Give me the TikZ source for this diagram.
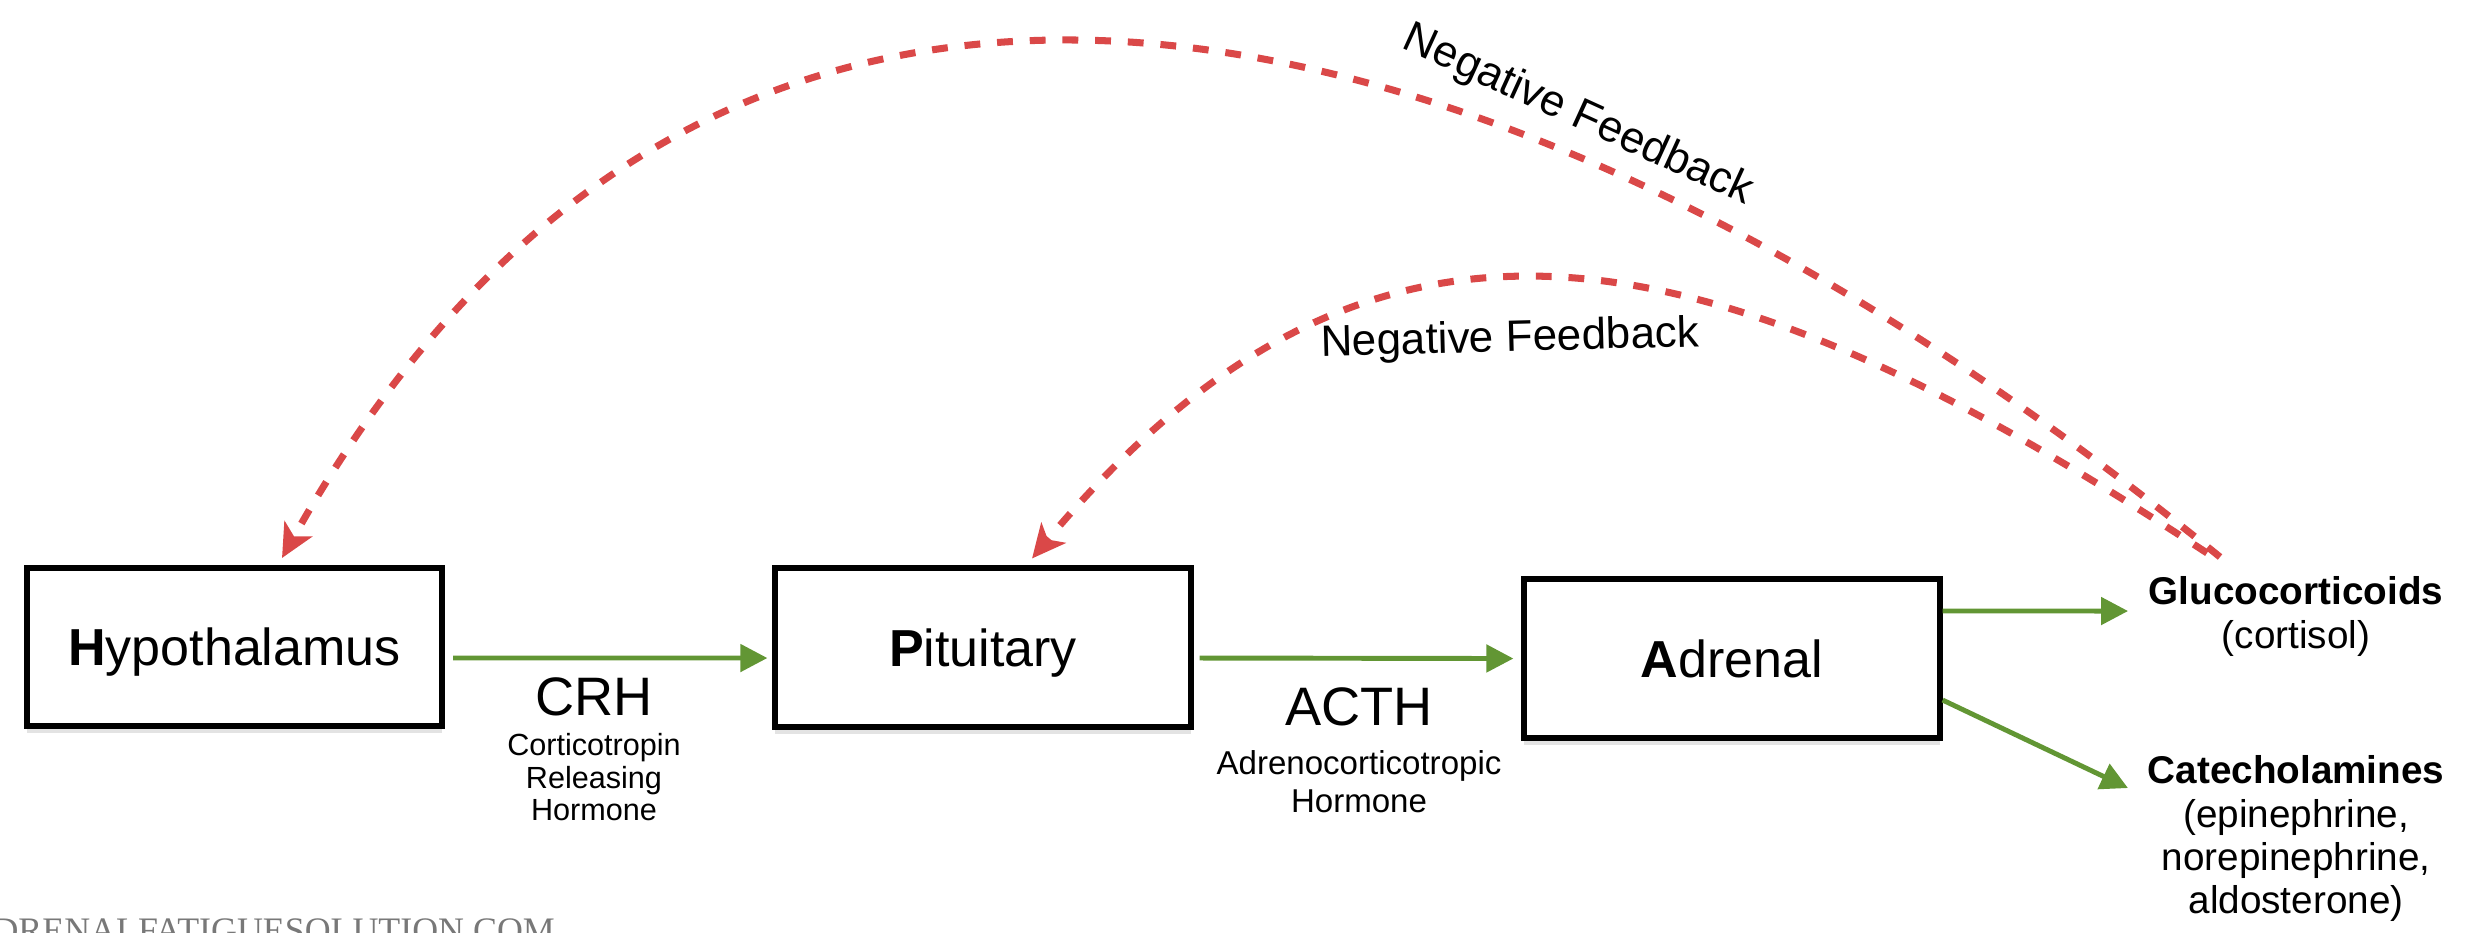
\documentclass[tikz,border=0pt]{standalone}
\usepackage{fontspec}
\setmainfont{Liberation Sans}
\newfontfamily\wmfont{Liberation Serif}
\usetikzlibrary{arrows.meta,shadows,calc}
\definecolor{fbred}{RGB}{218,72,72}
\definecolor{flowgreen}{RGB}{98,150,52}
\definecolor{wmgray}{RGB}{120,120,120}
\begin{document}
\begin{tikzpicture}[x=0.01cm,y=-0.01cm,
  organ/.style={draw=black, line width=1.7pt, fill=white, minimum width=4.15cm, minimum height=1.58cm,
    inner sep=0pt, font=\fontsize{14.8}{17}\selectfont, text depth=0pt,
    drop shadow={shadow xshift=0pt, shadow yshift=-2pt, opacity=0.22}},
  flow/.style={draw=flowgreen, line width=1.4pt, -{Triangle[length=7.7pt,width=7.7pt]}},
  feedback/.style={draw=fbred, line width=2pt, dash pattern=on 4.5pt off 4.8pt,
    -{Stealth[length=9.5pt,width=9pt,inset=2.5pt]}},
  hormone/.style={anchor=base, inner sep=0pt, font=\fontsize{15.4}{18}\selectfont},
  prod/.style={anchor=north, align=center, inner sep=0pt, font=\fontsize{11}{12.3}\selectfont},
  fblabel/.style={inner sep=0pt, font=\fontsize{12.5}{15}\selectfont}
]
\useasboundingbox (0,0) rectangle (2486,932);
\clip (0,0) rectangle (2486,932);

% organ boxes
\node[organ] (hyp) at (234.5,647) {\textbf{H}ypothalamus};
\node[organ] (pit) at (983,647.5) {\textbf{P}ituitary};
\node[organ] (adr) at (1732,658.5) {\textbf{A}drenal};

% hormone labels
\node[hormone] (crh) at (594,715) {CRH};
\node[anchor=north, align=center, inner sep=0pt, font=\fontsize{8.7}{9.25}\selectfont] (crhsub) at (594,733) {Corticotropin\\Releasing\\Hormone};
\node[hormone] (acth) at (1359,725) {ACTH};
\node[anchor=north, align=center, inner sep=0pt, font=\fontsize{9.4}{10.8}\selectfont] (acthsub) at (1359,750) {Adrenocorticotropic\\Hormone};

% products
\node[prod] (gluco) at (2296,576) {\textbf{Glucocorticoids}\\(cortisol)};
\node[prod] (cat) at (2296,755) {\textbf{Catecholamines}\\(epinephrine,\\norepinephrine,\\aldosterone)};

% green flow arrows
\draw[flow] ([xshift=0.08cm,yshift=-0.11cm]hyp.east) -- ([xshift=-0.05cm,yshift=-0.105cm]pit.west);
\draw[flow] ([xshift=0.06cm,yshift=-0.105cm]pit.east) -- ([xshift=-0.08cm]adr.west);
\draw[flow] ([yshift=0.475cm]adr.east) -- ([xshift=-0.2cm,yshift=-0.35cm]gluco.north west);
\draw[flow] ([yshift=-0.415cm]adr.east) -- ([xshift=-0.19cm,yshift=-0.33cm]cat.north west);

% negative feedback
\coordinate (fbsrcA) at (2220,557);
\coordinate (fbsrcB) at (2207,553);
\draw[feedback] (fbsrcA) .. controls (1560,20) and (741,-262) .. ([xshift=0.475cm,yshift=0.07cm]hyp.north);
\draw[feedback] (fbsrcB) .. controls (1706,224) and (1373,150) .. ([xshift=0.49cm,yshift=0.07cm]pit.north);
\node[fblabel, rotate=-24.5] (fbA) at (1578,116) {Negative Feedback};
\node[fblabel, rotate=1.5] (fbB) at (1510,340) {Negative Feedback};

% watermark
\node[anchor=base west, inner sep=0pt, text=wmgray, font=\wmfont\fontsize{10.2}{12}\selectfont] (wm) at (-34,942) {ADRENALFATIGUESOLUTION.COM};
\end{tikzpicture}
\end{document}
